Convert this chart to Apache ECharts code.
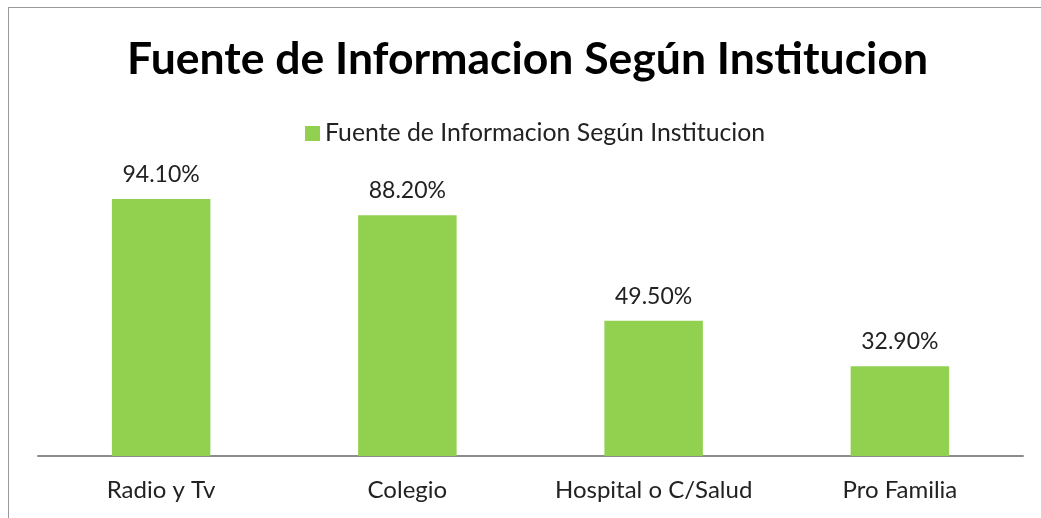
<!DOCTYPE html>
<html>
<head>
<meta charset="utf-8">
<script src="https://cdn.jsdelivr.net/npm/echarts@6/dist/echarts.min.js"></script>
<style>
	html, body { margin: 0; padding: 0; background: #fff; }
	#chart { width: 1041px; height: 518px; position: relative; }
	#frame { position: absolute; left: 8px; top: 7px; width: 1100px; height: 600px; border: 1px solid #999; box-sizing: border-box; pointer-events: none; }
	#wrap { width: 1041px; height: 518px; overflow: hidden; position: relative; }
</style>
</head>
<body>
<div id="wrap">
	<div id="chart"></div>
	<div id="frame"></div>
</div>
<script>
const title = 'Fuente de Informacion Según Institucion';
const seriesName = 'Fuente de Informacion Según Institucion';
const categories = ['Radio y Tv', 'Colegio', 'Hospital o C/Salud', 'Pro Familia'];
const values = [94.1, 88.2, 49.5, 32.9];

const chart = echarts.init(document.getElementById('chart'));

chart.setOption({
	animation: false,
	title: {
		text: title,
		left: 122,
		top: 32,
		textStyle: { fontFamily: 'Lato', fontWeight: 'bold', fontSize: 44.5, color: '#000' }
	},
	legend: {
		data: [seriesName],
		top: 116,
		left: 300,
		itemWidth: 15,
		itemHeight: 15,
		icon: 'rect',
		itemGap: 6,
		textStyle: { fontFamily: 'Lato', fontSize: 24.8, color: '#222' }
	},
	grid: { left: 38, right: 18, top: 183, bottom: 62, containLabel: false },
	xAxis: {
		type: 'category',
		data: categories,
		axisLine: { lineStyle: { color: '#8c8c8c', width: 2 } },
		axisTick: { show: false },
		axisLabel: { fontFamily: 'Lato', fontSize: 24, color: '#222', margin: 22, interval: 0 }
	},
	yAxis: {
		type: 'value',
		min: 0,
		max: 100,
		show: false
	},
	series: [{
		name: seriesName,
		type: 'bar',
		data: values,
		barWidth: '40%',
		itemStyle: { color: '#92D050' },
		label: {
			show: true,
			position: 'top',
			distance: 13,
			fontFamily: 'Lato',
			fontSize: 23,
			color: '#222',
			formatter: p => p.value.toFixed(2) + '%'
		}
	}]
});
</script>
</body>
</html>
